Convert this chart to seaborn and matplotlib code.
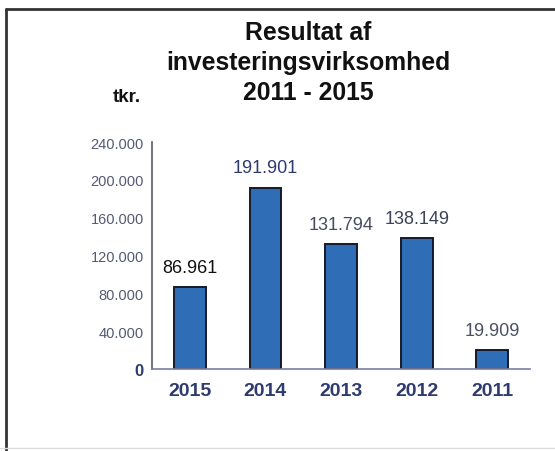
import matplotlib
matplotlib.use("Agg")
import matplotlib.pyplot as plt
import seaborn as sns
from matplotlib.lines import Line2D
from matplotlib.ticker import FuncFormatter, FixedLocator

years = ["2015", "2014", "2013", "2012", "2011"]
values = [86961, 191901, 131794, 138149, 19909]
label_colors = ["#111111", "#2f3a6e", "#474c62", "#3d4258", "#4b5063"]
y_ticks = [0, 40000, 80000, 120000, 160000, 200000, 240000]

sns.set_style("white")
plt.rcParams["font.family"] = ["Liberation Sans", "DejaVu Sans"]

fig = plt.figure(figsize=(5.55, 4.52), dpi=100)
ax = fig.add_axes([0.274, 0.1814, 0.681, 0.502])

sns.barplot(x=years, y=values, color="#2f6db6", width=0.42,
            edgecolor="#15192a", linewidth=1.4, saturation=1, ax=ax)

ax.set_ylim(0, 240000)
ax.set_xlim(-0.5, 4.5)
ax.yaxis.set_major_locator(FixedLocator(y_ticks))
ax.yaxis.set_major_formatter(
    FuncFormatter(lambda v, p: f"{int(v):,}".replace(",", "."))
)

for spine in ["top", "right"]:
    ax.spines[spine].set_visible(False)
ax.spines["left"].set_color("#5a5a66")
ax.spines["left"].set_linewidth(1.2)
ax.spines["bottom"].set_color("#7a7fa3")
ax.spines["bottom"].set_linewidth(1.2)

ax.tick_params(axis="y", direction="out", length=5, width=1,
               color="#5a5a66", labelsize=10.5, labelcolor="#555a75", pad=1)
for lab in ax.get_yticklabels():
    if lab.get_text() == "0":
        lab.set_color("#2f3a6e")
        lab.set_fontweight("bold")
        lab.set_fontsize(12)

ax.set_xticks([-0.5, 0.5, 1.5, 2.5, 3.5, 4.5], minor=True)
ax.tick_params(axis="x", which="minor", direction="out", length=4,
               width=1, color="#5a5a66")
ax.tick_params(axis="x", which="major", length=0, labelsize=14,
               labelcolor="#2f3a6e", pad=9)
for lab in ax.get_xticklabels():
    lab.set_fontweight("bold")

for i, v in enumerate(values):
    ax.annotate(f"{v:,}".replace(",", "."), (i, v), xytext=(0, 11),
                textcoords="offset points", ha="center", va="baseline",
                fontsize=13, color=label_colors[i])

fig.text(0.555, 0.953, "Resultat af\ninvesteringsvirksomhed\n2011 - 2015",
         ha="center", va="top", fontsize=17.8, fontweight="bold",
         linespacing=1.3, color="#111111")
fig.text(0.203, 0.774, "tkr.", ha="left", va="baseline",
         fontsize=13.5, fontweight="bold", color="#111111")

# frame around the picture
fig.add_artist(Line2D([6 / 555, 6 / 555], [0.0, 1 - 10 / 452],
                      transform=fig.transFigure, color="#333333", lw=2))
fig.add_artist(Line2D([6 / 555, 1.0], [1 - 10 / 452, 1 - 10 / 452],
                      transform=fig.transFigure, color="#333333", lw=2))
fig.add_artist(Line2D([0.0, 1.0], [1 - 449 / 452, 1 - 449 / 452],
                      transform=fig.transFigure, color="#dddddd", lw=1))

fig.savefig("out.png", dpi=100)
